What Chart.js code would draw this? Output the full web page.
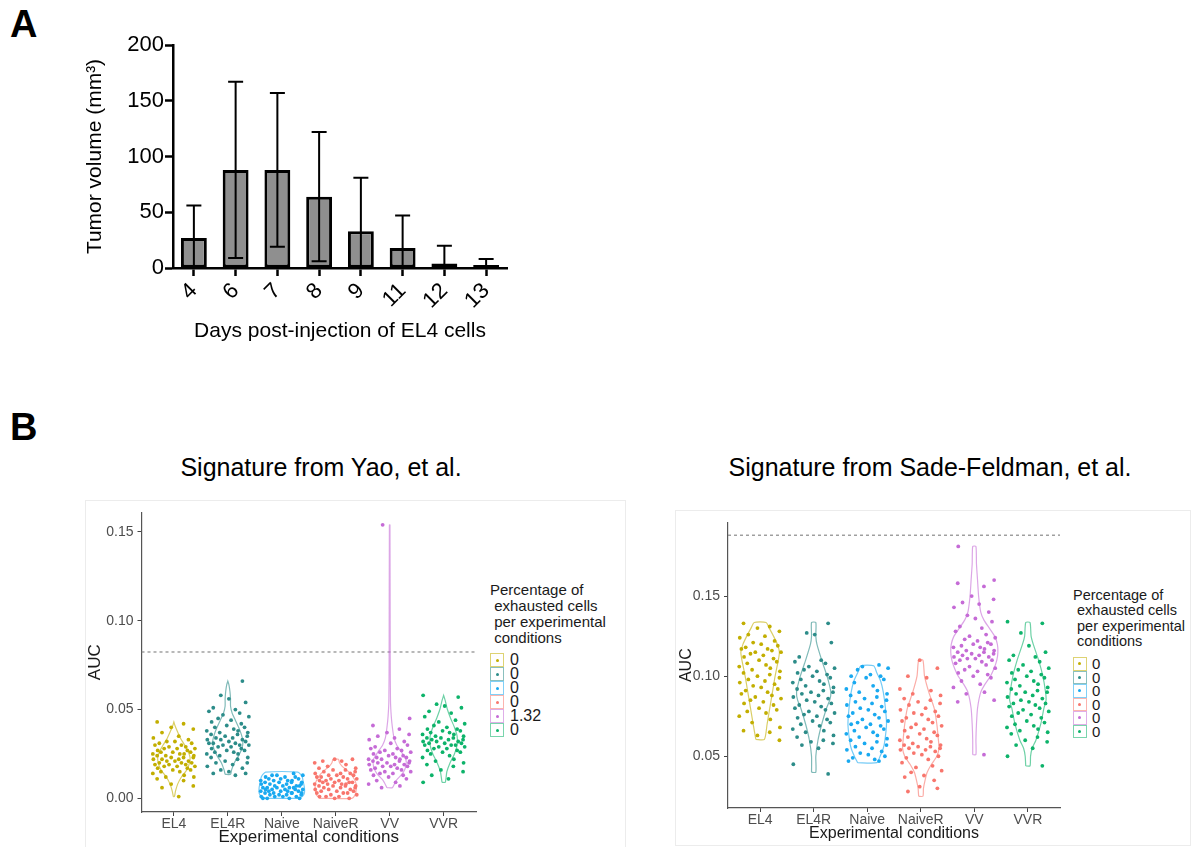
<!DOCTYPE html>
<html>
<head>
<meta charset="utf-8">
<script src="https://cdn.jsdelivr.net/npm/chart.js@4.4.0/dist/chart.umd.min.js"></script>
<style>
  body { margin: 0; width: 1194px; height: 847px; overflow: hidden; background: #fff; position: relative;
         font-family: 'Liberation Sans', Arial, sans-serif; }
  .abs { position: absolute; }
  .panelLabel { font-weight: bold; font-size: 38px; line-height: 38px; color: #000; }
  .sigTitle { font-size: 25px; line-height: 30px; color: #000; text-align: center; width: 500px; }
  .frame { border: 1px solid #ececec; box-sizing: border-box; }
  .legTitle { white-space: pre; color: #1a1a1a; }
  .key { position: absolute; box-sizing: border-box; border: 1.5px solid; }
  .key i { position: absolute; left: 50%; top: 50%; width: 3px; height: 3px; margin: -1.5px 0 0 -1.5px; border-radius: 50%; }
  .keyLab { position: absolute; color: #1a1a1a; }
</style>
</head>
<body>
<div class="abs panelLabel" style="left:10px; top:5px;">A</div>
<canvas id="chartA" class="abs" style="left:0; top:0;" width="540" height="348"></canvas>

<div class="abs panelLabel" style="left:10px; top:408px;">B</div>
<div class="abs sigTitle" style="left:71px; top:452px;">Signature from Yao, et al.</div>
<div class="abs sigTitle" style="left:680px; top:452px;">Signature from Sade-Feldman, et al.</div>

<div class="abs frame" style="left:85px; top:500px; width:541px; height:360px;"></div>
<div class="abs frame" style="left:675px; top:510px; width:516px; height:336px;"></div>
<canvas id="chartYao" class="abs" style="left:85px; top:500px;" width="405" height="352"></canvas>
<canvas id="chartSade" class="abs" style="left:675px; top:510px;" width="398" height="337"></canvas>
<div id="legYao"></div>
<div id="legSade"></div>

<script>
// ---- panel A data ----
const days = ['4', '6', '7', '8', '9', '11', '12', '13'];
const volMean = [27, 88, 88, 64, 33, 18, 4, 1];
const volSD = [29, 79, 69, 58, 48, 29, 16, 7];
const volTicks = [0, 50, 100, 150, 200];

// ---- panel B data ----
const conditions = ['EL4', 'EL4R', 'Naive', 'NaiveR', 'VV', 'VVR'];
const condColors = ['#C2AE00', '#2C8C89', '#19A9F0', '#F8766D', '#C56BD6', '#0DB36A'];
const yaoPct = ['0', '0', '0', '0', '1.32', '0'];
const sadePct = ['0', '0', '0', '0', '0', '0'];
const yaoTicks = [0, 0.05, 0.10, 0.15];
const sadeTicks = [0.05, 0.10, 0.15];
const yaoThreshold = 0.0824;
const sadeThreshold = 0.188;

// AUC per cell, Yao signature
const yaoEL4 = [0.043, 0.042, 0.040, 0.039, 0.037, 0.035, 0.034, 0.033, 0.032, 0.032, 0.031, 0.031, 0.030, 0.030, 0.029, 0.029, 0.028, 0.028, 0.028, 0.027, 0.027, 0.026, 0.026, 0.026, 0.025, 0.025, 0.025, 0.024, 0.024, 0.024, 0.023, 0.023, 0.023, 0.022, 0.022, 0.022, 0.021, 0.021, 0.021, 0.020, 0.020, 0.020, 0.019, 0.019, 0.019, 0.018, 0.018, 0.018, 0.017, 0.017, 0.016, 0.016, 0.015, 0.015, 0.014, 0.013, 0.012, 0.012, 0.011, 0.010, 0.008, 0.007, 0.006, 0.001];
const yaoEL4R = [0.066, 0.058, 0.056, 0.054, 0.051, 0.050, 0.049, 0.048, 0.047, 0.046, 0.045, 0.044, 0.043, 0.042, 0.041, 0.040, 0.040, 0.039, 0.038, 0.038, 0.037, 0.037, 0.036, 0.036, 0.035, 0.035, 0.034, 0.034, 0.033, 0.033, 0.033, 0.032, 0.032, 0.031, 0.031, 0.031, 0.030, 0.030, 0.030, 0.029, 0.029, 0.028, 0.028, 0.027, 0.027, 0.026, 0.026, 0.025, 0.025, 0.024, 0.023, 0.023, 0.022, 0.021, 0.020, 0.020, 0.019, 0.018, 0.017, 0.016, 0.015, 0.014, 0.014, 0.013];
const yaoNaive = [0.014, 0.013, 0.013, 0.013, 0.012, 0.012, 0.012, 0.011, 0.011, 0.011, 0.010, 0.010, 0.010, 0.010, 0.009, 0.009, 0.009, 0.009, 0.008, 0.008, 0.008, 0.008, 0.007, 0.007, 0.007, 0.007, 0.006, 0.006, 0.006, 0.006, 0.006, 0.005, 0.005, 0.005, 0.005, 0.005, 0.004, 0.004, 0.004, 0.004, 0.004, 0.003, 0.003, 0.003, 0.003, 0.003, 0.002, 0.002, 0.002, 0.002, 0.001, 0.001, 0.001, 0.001, 0.000, 0.000, 0.000, 0.000];
const yaoNaiveR = [0.022, 0.022, 0.021, 0.021, 0.020, 0.019, 0.018, 0.017, 0.017, 0.016, 0.016, 0.015, 0.015, 0.014, 0.014, 0.014, 0.013, 0.013, 0.013, 0.012, 0.012, 0.012, 0.011, 0.011, 0.011, 0.010, 0.010, 0.010, 0.009, 0.009, 0.009, 0.009, 0.008, 0.008, 0.008, 0.008, 0.007, 0.007, 0.007, 0.007, 0.006, 0.006, 0.006, 0.005, 0.005, 0.005, 0.004, 0.004, 0.004, 0.003, 0.003, 0.003, 0.002, 0.002, 0.001, 0.001, 0.001, 0.000, 0.000];
const yaoVV = [0.045, 0.041, 0.039, 0.037, 0.036, 0.035, 0.034, 0.033, 0.032, 0.154, 0.031, 0.030, 0.029, 0.028, 0.028, 0.027, 0.027, 0.026, 0.026, 0.025, 0.025, 0.024, 0.024, 0.023, 0.023, 0.023, 0.022, 0.022, 0.022, 0.021, 0.021, 0.021, 0.020, 0.020, 0.020, 0.019, 0.019, 0.019, 0.018, 0.018, 0.018, 0.017, 0.017, 0.016, 0.016, 0.015, 0.015, 0.014, 0.014, 0.013, 0.013, 0.012, 0.011, 0.010, 0.009, 0.008, 0.007, 0.006];
const yaoVVR = [0.058, 0.057, 0.053, 0.052, 0.051, 0.049, 0.048, 0.046, 0.044, 0.043, 0.042, 0.041, 0.040, 0.039, 0.039, 0.038, 0.038, 0.037, 0.037, 0.036, 0.036, 0.035, 0.035, 0.034, 0.034, 0.034, 0.033, 0.033, 0.033, 0.032, 0.032, 0.032, 0.031, 0.031, 0.031, 0.030, 0.030, 0.030, 0.029, 0.029, 0.028, 0.028, 0.027, 0.027, 0.026, 0.026, 0.025, 0.024, 0.023, 0.022, 0.021, 0.020, 0.019, 0.018, 0.016, 0.015, 0.013, 0.011, 0.009];

// AUC per cell, Sade-Feldman signature
const sadeEL4 = [0.133, 0.131, 0.130, 0.128, 0.126, 0.125, 0.124, 0.122, 0.121, 0.120, 0.119, 0.118, 0.117, 0.117, 0.116, 0.115, 0.115, 0.114, 0.113, 0.112, 0.111, 0.110, 0.109, 0.108, 0.107, 0.106, 0.105, 0.104, 0.103, 0.102, 0.101, 0.100, 0.099, 0.098, 0.097, 0.096, 0.095, 0.094, 0.093, 0.092, 0.091, 0.090, 0.089, 0.088, 0.087, 0.086, 0.085, 0.084, 0.083, 0.082, 0.080, 0.079, 0.078, 0.077, 0.075, 0.073, 0.071, 0.068, 0.066, 0.065, 0.063, 0.060];
const sadeEL4R = [0.133, 0.127, 0.126, 0.121, 0.112, 0.110, 0.109, 0.108, 0.106, 0.105, 0.104, 0.103, 0.102, 0.101, 0.100, 0.099, 0.098, 0.097, 0.096, 0.095, 0.094, 0.093, 0.092, 0.091, 0.090, 0.090, 0.089, 0.088, 0.087, 0.086, 0.085, 0.084, 0.083, 0.082, 0.081, 0.080, 0.079, 0.078, 0.077, 0.076, 0.075, 0.074, 0.073, 0.072, 0.071, 0.070, 0.069, 0.067, 0.066, 0.065, 0.063, 0.062, 0.060, 0.059, 0.058, 0.057, 0.055, 0.045, 0.039];
const sadeNaive = [0.107, 0.106, 0.105, 0.104, 0.101, 0.100, 0.100, 0.099, 0.098, 0.096, 0.094, 0.092, 0.091, 0.090, 0.089, 0.088, 0.087, 0.086, 0.085, 0.084, 0.083, 0.082, 0.081, 0.080, 0.079, 0.078, 0.077, 0.076, 0.075, 0.074, 0.073, 0.072, 0.071, 0.070, 0.070, 0.069, 0.068, 0.067, 0.066, 0.065, 0.064, 0.063, 0.062, 0.061, 0.060, 0.059, 0.058, 0.057, 0.056, 0.055, 0.054, 0.053, 0.052, 0.051, 0.050, 0.049, 0.048, 0.047, 0.047];
const sadeNaiveR = [0.110, 0.105, 0.100, 0.099, 0.092, 0.091, 0.089, 0.088, 0.086, 0.085, 0.084, 0.083, 0.082, 0.080, 0.079, 0.078, 0.077, 0.076, 0.075, 0.074, 0.073, 0.072, 0.071, 0.070, 0.069, 0.068, 0.067, 0.066, 0.065, 0.064, 0.063, 0.062, 0.061, 0.060, 0.059, 0.058, 0.057, 0.057, 0.056, 0.056, 0.055, 0.055, 0.054, 0.054, 0.053, 0.052, 0.051, 0.050, 0.049, 0.048, 0.046, 0.044, 0.043, 0.041, 0.040, 0.038, 0.037, 0.035, 0.031, 0.030, 0.028];
const sadeVV = [0.160, 0.158, 0.156, 0.150, 0.148, 0.146, 0.145, 0.143, 0.140, 0.138, 0.136, 0.134, 0.131, 0.130, 0.128, 0.126, 0.125, 0.124, 0.123, 0.122, 0.181, 0.121, 0.120, 0.120, 0.119, 0.118, 0.118, 0.117, 0.116, 0.116, 0.115, 0.115, 0.114, 0.114, 0.113, 0.113, 0.112, 0.112, 0.111, 0.111, 0.110, 0.110, 0.109, 0.108, 0.107, 0.106, 0.105, 0.104, 0.103, 0.102, 0.101, 0.100, 0.099, 0.097, 0.095, 0.093, 0.090, 0.089, 0.085, 0.084, 0.051];
const sadeVVR = [0.134, 0.133, 0.127, 0.119, 0.115, 0.113, 0.112, 0.110, 0.109, 0.107, 0.105, 0.104, 0.103, 0.102, 0.101, 0.100, 0.099, 0.098, 0.097, 0.096, 0.095, 0.094, 0.093, 0.092, 0.091, 0.090, 0.090, 0.089, 0.088, 0.087, 0.086, 0.085, 0.084, 0.083, 0.083, 0.082, 0.081, 0.080, 0.079, 0.078, 0.077, 0.076, 0.075, 0.074, 0.072, 0.071, 0.070, 0.069, 0.068, 0.067, 0.066, 0.065, 0.064, 0.062, 0.060, 0.059, 0.057, 0.055, 0.050, 0.044];

// violin outlines: [AUC, half width in category units], bottom to top
const yaoViolinEL4 = [[0.001, 0.01], [0.004, 0.03], [0.008, 0.07], [0.012, 0.14], [0.016, 0.24], [0.020, 0.29], [0.023, 0.30], [0.026, 0.27], [0.030, 0.20], [0.034, 0.12], [0.038, 0.06], [0.041, 0.02], [0.043, 0]];
const yaoViolinEL4R = [[0.0135, 0.05], [0.016, 0.07], [0.020, 0.12], [0.024, 0.20], [0.028, 0.26], [0.032, 0.28], [0.036, 0.25], [0.040, 0.20], [0.044, 0.14], [0.048, 0.08], [0.052, 0.05], [0.056, 0.05], [0.060, 0.04], [0.064, 0.02], [0.066, 0]];
const yaoViolinNaive = [[0, 0.30], [0.001, 0.38], [0.003, 0.42], [0.006, 0.42], [0.009, 0.40], [0.012, 0.38], [0.0135, 0.35], [0.0148, 0.30]];
const yaoViolinNaiveR = [[0, 0.30], [0.002, 0.36], [0.005, 0.38], [0.008, 0.38], [0.011, 0.34], [0.014, 0.27], [0.016, 0.20], [0.018, 0.12], [0.020, 0.07], [0.022, 0.05]];
const yaoViolinVV = [[0.006, 0.05], [0.010, 0.12], [0.014, 0.24], [0.018, 0.30], [0.022, 0.30], [0.026, 0.22], [0.030, 0.13], [0.034, 0.08], [0.040, 0.05], [0.046, 0.03], [0.055, 0.015], [0.080, 0.01], [0.154, 0.005]];
const yaoViolinVVR = [[0.009, 0.03], [0.015, 0.06], [0.020, 0.12], [0.025, 0.20], [0.030, 0.25], [0.035, 0.25], [0.040, 0.20], [0.045, 0.13], [0.050, 0.07], [0.055, 0.03], [0.058, 0]];

const sadeViolinEL4 = [[0.0605, 0.08], [0.070, 0.13], [0.080, 0.18], [0.090, 0.23], [0.100, 0.28], [0.110, 0.34], [0.115, 0.36], [0.120, 0.32], [0.125, 0.25], [0.130, 0.17], [0.1335, 0.11]];
const sadeViolinEL4R = [[0.040, 0.04], [0.050, 0.04], [0.060, 0.08], [0.070, 0.15], [0.080, 0.24], [0.085, 0.30], [0.090, 0.32], [0.100, 0.25], [0.110, 0.15], [0.120, 0.06], [0.125, 0.04], [0.1335, 0.04]];
const sadeViolinNaive = [[0.046, 0.18], [0.050, 0.24], [0.055, 0.30], [0.060, 0.33], [0.070, 0.36], [0.080, 0.34], [0.090, 0.30], [0.097, 0.25], [0.102, 0.18], [0.1065, 0.12]];
const sadeViolinNaiveR = [[0.025, 0.04], [0.030, 0.05], [0.035, 0.08], [0.040, 0.12], [0.045, 0.20], [0.050, 0.30], [0.055, 0.34], [0.060, 0.33], [0.070, 0.30], [0.080, 0.25], [0.090, 0.15], [0.100, 0.07], [0.110, 0.04]];
const sadeViolinVV = [[0.051, 0.03], [0.060, 0.03], [0.070, 0.04], [0.080, 0.06], [0.090, 0.12], [0.095, 0.20], [0.100, 0.30], [0.105, 0.37], [0.110, 0.42], [0.115, 0.44], [0.120, 0.43], [0.125, 0.38], [0.130, 0.28], [0.135, 0.18], [0.140, 0.12], [0.150, 0.08], [0.160, 0.06], [0.170, 0.04], [0.181, 0.03]];
const sadeViolinVVR = [[0.044, 0.04], [0.050, 0.05], [0.055, 0.08], [0.060, 0.15], [0.070, 0.24], [0.080, 0.30], [0.085, 0.34], [0.090, 0.33], [0.100, 0.28], [0.110, 0.20], [0.120, 0.10], [0.125, 0.06], [0.1335, 0.04]];

// horizontal jitter offsets (category units), cycled over the points
const jitter = [-0.31, 0.18, -0.05, 0.36, -0.22, 0.09, -0.38, 0.27, -0.13, 0.02, 0.33, -0.27, 0.14, -0.35, 0.22, -0.09, 0.39, -0.18, 0.06, -0.30, 0.25, -0.02, 0.31, -0.24, 0.11, -0.39, 0.19, -0.15, 0.37];

Chart.defaults.font.family = "'Liberation Sans', Arial, sans-serif";

function rgba(hex, a) {
    const n = parseInt(hex.slice(1), 16);
    return 'rgba(' + (n >> 16) + ',' + ((n >> 8) & 255) + ',' + (n & 255) + ',' + a + ')';
}

// error bars for panel A
const errorBars = {
    id: 'errorBars',
    afterDatasetsDraw(chart) {
        const ctx = chart.ctx, xs = chart.scales.x, ys = chart.scales.y;
        ctx.save();
        ctx.strokeStyle = '#000';
        ctx.lineWidth = 2;
        days.forEach((d, i) => {
            const cx = xs.getPixelForValue(i);
            const top = ys.getPixelForValue(volMean[i] + volSD[i]);
            const low = volMean[i] - volSD[i];
            const bot = ys.getPixelForValue(Math.max(0, low));
            ctx.beginPath();
            ctx.moveTo(cx, top); ctx.lineTo(cx, bot);
            ctx.moveTo(cx - 7.5, top); ctx.lineTo(cx + 7.5, top);
            if (low > 0) { ctx.moveTo(cx - 7.5, bot); ctx.lineTo(cx + 7.5, bot); }
            ctx.stroke();
        });
        ctx.restore();
    }
};

new Chart(document.getElementById('chartA'), {
    type: 'bar',
    data: {
        labels: days,
        datasets: [{
            data: volMean,
            backgroundColor: '#8F8F8F',
            borderColor: '#000',
            borderWidth: 3,
            borderSkipped: false,
            minBarLength: 3,
            barPercentage: 0.62,
            categoryPercentage: 1
        }]
    },
    options: {
        responsive: false,
        animation: false,
        layout: { padding: { left: 80, top: 45, right: 33, bottom: 0 } },
        plugins: { legend: { display: false }, tooltip: { enabled: false } },
        scales: {
            x: {
                grid: { drawOnChartArea: false, offset: false, tickLength: 8, tickWidth: 2.5, tickColor: '#000' },
                border: { color: '#000', width: 2.5 },
                ticks: { color: '#000', font: { size: 22 }, minRotation: 45, maxRotation: 45, padding: 2 },
                title: { display: true, text: 'Days post-injection of EL4 cells', color: '#000', font: { size: 21 } },
                afterFit(s) { s.height = 80; }
            },
            y: {
                min: 0, max: 200,
                afterBuildTicks(s) { s.ticks = volTicks.map(v => ({ value: v })); },
                grid: { drawOnChartArea: false, tickLength: 8, tickWidth: 2.5, tickColor: '#000' },
                border: { color: '#000', width: 2.5 },
                ticks: { color: '#000', font: { size: 22 }, padding: 1 },
                title: { display: true, text: 'Tumor volume (mm³)', color: '#000', font: { size: 21 }, padding: { top: 3, bottom: 4 } },
                afterFit(s) { s.width = 93; }
            }
        }
    },
    plugins: [errorBars]
});

function violinChart(id, groups, profiles, ticks, yMin, yMax, threshold, o) {
    const datasets = [];
    groups.forEach((vals, i) => {
        datasets.push({
            data: vals.map((v, k) => ({ x: i + 1 + jitter[(k + i * 7) % jitter.length], y: v })),
            pointRadius: 1.9, pointBackgroundColor: condColors[i], pointBorderWidth: 0,
            showLine: false, order: 0
        });
    });
    profiles.forEach((p, i) => {
        const c = i + 1;
        const pts = p.map(([y, w]) => ({ x: c - w, y: y }))
            .concat(p.slice().reverse().map(([y, w]) => ({ x: c + w, y: y })));
        pts.push(pts[0]);
        datasets.push({
            data: pts, showLine: true, borderColor: rgba(condColors[i], 0.6), borderWidth: 1.2,
            pointRadius: 0, fill: false, tension: 0.2, order: 1
        });
    });
    datasets.push({
        data: [{ x: 0.4, y: threshold }, { x: 6.6, y: threshold }],
        showLine: true, borderColor: '#8a8a8a', borderWidth: 1.2, borderDash: [3, 3],
        pointRadius: 0, order: 2
    });

    new Chart(document.getElementById(id), {
        type: 'scatter',
        data: { datasets: datasets },
        options: {
            responsive: false,
            animation: false,
            layout: { padding: { left: 0, top: 5, right: o.padRight, bottom: 0 } },
            plugins: { legend: { display: false }, tooltip: { enabled: false } },
            scales: {
                x: {
                    type: 'linear', min: 0.4, max: 6.6,
                    afterBuildTicks(s) { s.ticks = conditions.map((c, i) => ({ value: i + 1 })); },
                    grid: { drawOnChartArea: false, tickLength: 4, tickColor: '#444' },
                    border: { color: '#555', width: 1.2 },
                    ticks: { color: '#4D4D4D', font: { size: 14 }, padding: 0, callback: v => conditions[v - 1] },
                    title: { display: true, text: 'Experimental conditions', color: '#1a1a1a', font: { size: o.titleSize }, padding: { top: 0, bottom: 4 } },
                    afterFit(s) { s.height = o.xHeight; }
                },
                y: {
                    min: yMin, max: yMax,
                    afterBuildTicks(s) { s.ticks = ticks.map(v => ({ value: v })); },
                    grid: { drawOnChartArea: false, tickLength: 4, tickColor: '#444' },
                    border: { color: '#555', width: 1.2 },
                    ticks: { color: '#4D4D4D', font: { size: 14 }, padding: 4, callback: v => v.toFixed(2) },
                    title: { display: true, text: 'AUC', color: '#1a1a1a', font: { size: o.titleSize }, padding: { top: o.yTitlePad, bottom: 4 } },
                    afterFit(s) { s.width = o.yWidth; }
                }
            }
        }
    });
}

violinChart('chartYao',
    [yaoEL4, yaoEL4R, yaoNaive, yaoNaiveR, yaoVV, yaoVVR],
    [yaoViolinEL4, yaoViolinEL4R, yaoViolinNaive, yaoViolinNaiveR, yaoViolinVV, yaoViolinVVR],
    yaoTicks, -0.0077, 0.161, yaoThreshold,
    { padRight: 14, xHeight: 40, yWidth: 56.5, titleSize: 17, yTitlePad: 0 });

violinChart('chartSade',
    [sadeEL4, sadeEL4R, sadeNaive, sadeNaiveR, sadeVV, sadeVVR],
    [sadeViolinEL4, sadeViolinEL4R, sadeViolinNaive, sadeViolinNaiveR, sadeViolinVV, sadeViolinVVR],
    sadeTicks, 0.0177, 0.196, sadeThreshold,
    { padRight: 13, xHeight: 39, yWidth: 53, titleSize: 16, yTitlePad: 2 });

// legends
function buildLegend(id, pct, o) {
    const el = document.getElementById(id);
    const t = document.createElement('div');
    t.className = 'abs legTitle';
    t.style.cssText = 'left:' + o.left + 'px;top:' + o.top + 'px;font-size:' + o.titleSize + 'px;line-height:' + o.lineH + 'px;';
    t.textContent = 'Percentage of\n exhausted cells\n per experimental\n conditions';
    el.appendChild(t);
    pct.forEach((p, i) => {
        const k = document.createElement('div');
        k.className = 'key';
        const y = o.keyTop + i * o.keySize;
        k.style.cssText = 'left:' + o.left + 'px;top:' + y + 'px;width:' + o.keySize + 'px;height:' + o.keySize + 'px;border-color:' + rgba(condColors[i], 0.55) + ';';
        const dot = document.createElement('i');
        dot.style.background = condColors[i];
        k.appendChild(dot);
        el.appendChild(k);
        const lab = document.createElement('div');
        lab.className = 'keyLab';
        lab.style.cssText = 'left:' + o.labLeft + 'px;top:' + y + 'px;height:' + o.keySize + 'px;line-height:' + o.keySize + 'px;font-size:' + o.labSize + 'px;';
        lab.textContent = p;
        el.appendChild(lab);
    });
}

buildLegend('legYao', yaoPct, { left: 490, top: 582, titleSize: 15, lineH: 16, keyTop: 653, keySize: 14, labLeft: 510, labSize: 16 });
buildLegend('legSade', sadePct, { left: 1073, top: 588, titleSize: 14.5, lineH: 15.3, keyTop: 657, keySize: 13.5, labLeft: 1092, labSize: 15 });
</script>
</body>
</html>
